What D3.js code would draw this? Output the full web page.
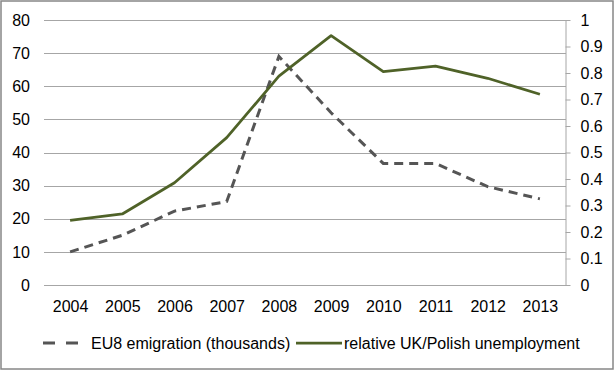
<!DOCTYPE html>
<html>
<head>
<meta charset="utf-8">
<script src="https://cdn.jsdelivr.net/npm/d3@7"></script>
<style>
  body { margin: 0; background: white; }
  svg { display: block; font-family: "Liberation Sans", Arial, sans-serif; }
</style>
</head>
<body>
<div id="chart"></div>
<script>
let w = 614
let h = 370

// data
let years = ["2004", "2005", "2006", "2007", "2008", "2009", "2010", "2011", "2012", "2013"];
let emigration = [10, 15, 22.3, 25.2, 69, 52, 36.7, 36.7, 29.7, 26];
let unemployment = [0.244, 0.268, 0.386, 0.556, 0.788, 0.941, 0.805, 0.826, 0.78, 0.72];
let leftTicks = [0, 10, 20, 30, 40, 50, 60, 70, 80];
let rightTicks = [0, 0.1, 0.2, 0.3, 0.4, 0.5, 0.6, 0.7, 0.8, 0.9, 1];
let seriesNames = ["EU8 emigration (thousands)", "relative UK/Polish unemployment"];

let plotL = 44, plotR = 566, plotT = 20, plotB = 285;
let fontSize = 16;

let viz = d3.select("#chart")
  .append("svg")
    .attr("width", w)
    .attr("height", h)
;

// outer frame
viz.append("rect")
  .attr("x", 1).attr("y", 1)
  .attr("width", w - 2).attr("height", h - 2)
  .attr("fill", "white")
  .attr("stroke", "#878787")
  .attr("stroke-width", 1.5)

let x = d3.scalePoint().domain(years).range([plotL, plotR]).padding(0.5);
let yLeft = d3.scaleLinear().domain([0, 80]).range([plotB, plotT]);
let yRight = d3.scaleLinear().domain([0, 1]).range([plotB, plotT]);

// gridlines
viz.append("g")
  .selectAll("line")
  .data(leftTicks)
  .enter()
  .append("line")
    .attr("x1", plotL)
    .attr("x2", plotR)
    .attr("y1", d => Math.round(yLeft(d)) + 0.5)
    .attr("y2", d => Math.round(yLeft(d)) + 0.5)
    .attr("stroke", "#a6a6a6")
    .attr("stroke-width", 1)

// left axis
let leftAxis = viz.append("g")
  .attr("transform", "translate(" + plotL + ",0)")
  .call(d3.axisLeft(yLeft).tickValues(leftTicks).tickSize(0).tickPadding(14))
leftAxis.select(".domain").remove()

// right axis
let rightAxis = viz.append("g")
  .attr("transform", "translate(" + (plotR - 0.5) + ",0)")
  .call(d3.axisRight(yRight).tickValues(rightTicks).tickSize(5).tickSizeOuter(0).tickPadding(10)
    .tickFormat(d3.format("~g")))
rightAxis.select(".domain").attr("stroke", "#a6a6a6")
rightAxis.selectAll(".tick line").attr("stroke", "#a6a6a6")

// bottom axis
let bottomAxis = viz.append("g")
  .attr("transform", "translate(0," + plotB + ")")
  .call(d3.axisBottom(x).tickSize(0).tickPadding(16))
bottomAxis.select(".domain").remove()

viz.selectAll(".tick text")
  .attr("font-family", "Liberation Sans, Arial, sans-serif")
  .attr("font-size", fontSize)
  .attr("fill", "#000")

// lines
let emigLine = d3.line()
  .x((d, i) => x(years[i]))
  .y(d => yLeft(d))
let unempLine = d3.line()
  .x((d, i) => x(years[i]))
  .y(d => yRight(d))

viz.append("path")
  .datum(emigration)
  .attr("d", emigLine)
  .attr("fill", "none")
  .attr("stroke", "#555555")
  .attr("stroke-width", 3)
  .attr("stroke-dasharray", "9,6")

viz.append("path")
  .datum(unemployment)
  .attr("d", unempLine)
  .attr("fill", "none")
  .attr("stroke", "#4f6228")
  .attr("stroke-width", 2.75)
  .attr("stroke-linejoin", "round")

// legend
let legY = 343;
viz.append("line")
  .attr("x1", 43).attr("x2", 78)
  .attr("y1", legY).attr("y2", legY)
  .attr("stroke", "#555555")
  .attr("stroke-width", 3)
  .attr("stroke-dasharray", "12,11")
viz.append("text")
  .text(seriesNames[0])
  .attr("x", 91)
  .attr("y", legY + 5.5)
  .attr("font-size", fontSize)
  .attr("fill", "black")

viz.append("line")
  .attr("x1", 296).attr("x2", 342)
  .attr("y1", legY).attr("y2", legY)
  .attr("stroke", "#4f6228")
  .attr("stroke-width", 2.75)
viz.append("text")
  .text(seriesNames[1])
  .attr("x", 344)
  .attr("y", legY + 5.5)
  .attr("font-size", fontSize)
  .attr("fill", "black")
</script>
</body>
</html>
